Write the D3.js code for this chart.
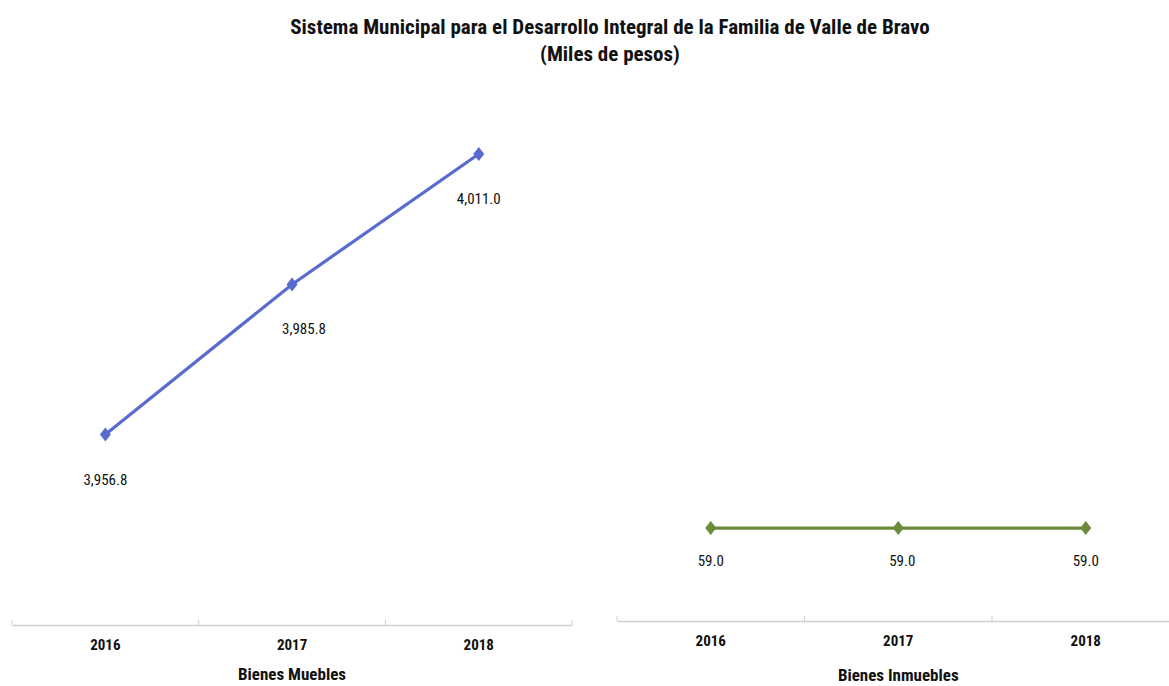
<!DOCTYPE html>
<html>
<head>
<meta charset="utf-8">
<script src="https://cdn.jsdelivr.net/npm/d3@7"></script>
<style>
  body { margin: 0; background: #fff; }
  text { font-family: "Liberation Sans Narrow", "Arial Narrow", "Roboto Condensed", sans-serif; fill: #111; }
</style>
</head>
<body>
<script>
// chart data
var years = ["2016", "2017", "2018"];
var muebles = [3956.8, 3985.8, 4011.0];
var inmuebles = [59.0, 59.0, 59.0];
var titleLines = ["Sistema Municipal para el Desarrollo Integral de la Familia de Valle de Bravo", "(Miles de pesos)"];

var width = 1169, height = 686;
var fmt = d3.format(",.1f");

var svg = d3.select("body").append("svg")
            .attr("width", width)
            .attr("height", height);

// title
svg.selectAll("text.title")
   .data(titleLines)
   .enter().append("text")
   .attr("class", "title")
   .attr("x", 610)
   .attr("y", function(d, i) { return 34 + i * 27; })
   .attr("text-anchor", "middle")
   .attr("font-size", 21)
   .attr("font-weight", "bold")
   .text(function(d) { return d; });

// one panel per series
function drawPanel(opts) {
  var x = d3.scaleBand()
            .domain(years)
            .range([opts.x0, opts.x0 + 3 * opts.step]);
  var y = d3.scaleLinear()
            .domain(opts.domain)
            .range([opts.axisY, opts.top]);

  var g = svg.append("g");

  // category axis
  var axis = g.append("g")
              .attr("transform", "translate(0," + opts.axisY + ")")
              .call(d3.axisBottom(x).tickSize(0).tickPadding(14));
  axis.select(".domain").attr("stroke", "#d0d0d0").attr("stroke-width", 1.5);
  axis.selectAll(".tick text")
      .attr("font-size", 15)
      .attr("font-weight", "bold")
      .attr("fill", "#111");

  // category separators
  g.selectAll("line.sep")
   .data(d3.range(years.length + 1))
   .enter().append("line")
   .attr("class", "sep")
   .attr("x1", function(d) { return opts.x0 + d * x.step(); })
   .attr("x2", function(d) { return opts.x0 + d * x.step(); })
   .attr("y1", opts.axisY - 5)
   .attr("y2", opts.axisY)
   .attr("stroke", "#d0d0d0");

  var cx = function(d, i) { return x(years[i]) + x.bandwidth() / 2; };

  var line = d3.line()
               .x(cx)
               .y(function(d) { return y(d); });

  g.append("path")
   .datum(opts.values)
   .attr("d", line)
   .attr("fill", "none")
   .attr("stroke", opts.color)
   .attr("stroke-width", 3.2);

  g.selectAll("path.marker")
   .data(opts.values)
   .enter().append("path")
   .attr("class", "marker")
   .attr("d", "M0,-7L5.5,0L0,7L-5.5,0Z")
   .attr("transform", function(d, i) { return "translate(" + cx(d, i) + "," + y(d) + ")"; })
   .attr("fill", opts.color);

  g.selectAll("text.label")
   .data(opts.values)
   .enter().append("text")
   .attr("class", "label")
   .attr("x", function(d, i) { return cx(d, i) + (i == 1 ? opts.midDx : 0); })
   .attr("y", function(d) { return y(d) + opts.labelDy; })
   .attr("text-anchor", "middle")
   .attr("font-size", 15)
   .text(function(d) { return fmt(d); });

  g.append("text")
   .attr("x", opts.x0 + 1.5 * x.step())
   .attr("y", opts.titleY)
   .attr("text-anchor", "middle")
   .attr("font-size", 17)
   .attr("font-weight", "bold")
   .text(opts.title);
}

drawPanel({
  x0: 12, step: 186.7, axisY: 625, top: 107.4,
  domain: [3920, 4020], values: muebles, color: "#5a6bcf",
  labelDy: 50, midDx: 12,
  title: "Bienes Muebles", titleY: 680
});

drawPanel({
  x0: 617, step: 187.5, axisY: 621, top: 510.7,
  domain: [0, 70], values: inmuebles, color: "#6b8a3a",
  labelDy: 38, midDx: 4,
  title: "Bienes Inmuebles", titleY: 681
});
</script>
</body>
</html>
